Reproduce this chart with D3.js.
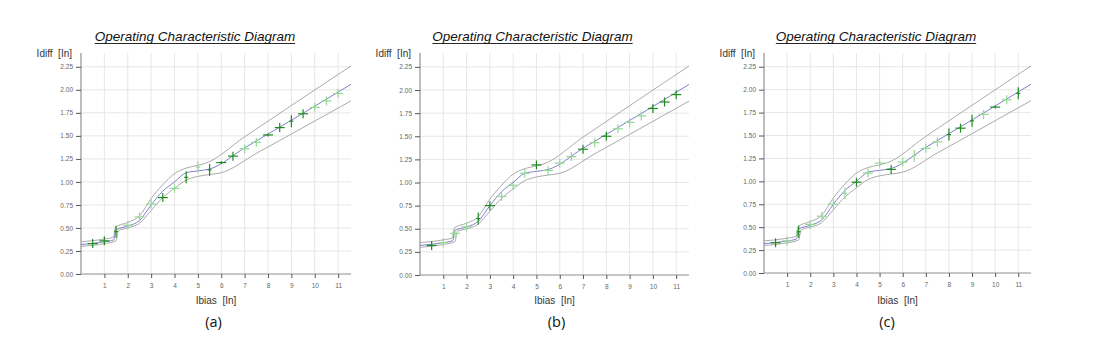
<!DOCTYPE html>
<html><head><meta charset="utf-8">
<script src="https://cdn.jsdelivr.net/npm/d3@7"></script>
<style>body{margin:0;background:#fff}svg{display:block}</style>
</head><body><svg id="c" width="1096" height="358"></svg>
<script>
// ---------- data ----------
const chartTitle = "Operating Characteristic Diagram";
const yAxisLabel = "Idiff  [In]";
const xAxisLabel = "Ibias  [In]";
const panelLabels = ["(a)", "(b)", "(c)"];
const xTicks = [1,2,3,4,5,6,7,8,9,10,11];
const yTicks = [0,0.25,0.5,0.75,1,1.25,1.5,1.75,2,2.25];
const xGrid = [0,1,2,3,4,5,6,7,8,9,10,11];

const upperX = [0,1,1.38,1.48,2,2.5,3,3.5,4,4.5,5,5.3,7,9,11.55];
const upperY = [0.35,0.38,0.40,0.51,0.56,0.63,0.82,0.97,1.09,1.15,1.18,1.20,1.49,1.83,2.26];
const middleX = [0,1,1.4,1.5,2,2.5,3,3.5,4,4.5,5,5.5,7,9,11.55];
const middleY = [0.32,0.35,0.37,0.48,0.52,0.58,0.75,0.90,1.00,1.10,1.12,1.14,1.37,1.67,2.06];
const lowerX = [0,1,1.5,1.6,2,2.5,3,3.5,4,4.5,5,5.5,6,7.5,9,11.55];
const lowerY = [0.30,0.33,0.36,0.47,0.50,0.55,0.69,0.83,0.93,1.02,1.06,1.08,1.10,1.31,1.52,1.88];

const measX = [0.5,1,1.5,2,2.5,3,3.5,4,4.5,5,5.5,6,6.5,7,7.5,8,8.5,9,9.5,10,10.5,11];
const measA = [0.33,0.36,0.46,0.53,0.62,0.76,0.83,0.93,1.05,1.16,1.13,1.21,1.28,1.36,1.43,1.51,1.59,1.66,1.74,1.81,1.88,1.96];
const measB = [0.32,0.35,0.45,0.52,0.61,0.75,0.85,0.97,1.10,1.19,1.13,1.21,1.28,1.36,1.43,1.50,1.58,1.65,1.72,1.80,1.87,1.95];
const measC = [0.33,0.35,0.45,0.53,0.62,0.75,0.87,0.99,1.09,1.20,1.13,1.21,1.28,1.36,1.43,1.51,1.58,1.66,1.73,1.81,1.89,1.96];
// marker kind: D/L = dark/light trip point, + | - = shape
const kindA = ["D+","D+","D|","L+","L+","L+","D+","L+","D|","L|","D|","D-","D+","L+","L+","D-","D+","D|","D+","L+","L+","L+"];
const kindB = ["D+","L+","L+","L+","D|","D+","L+","L+","L+","D+","L+","L+","L+","D+","L+","D+","L+","L+","L+","D+","D+","D+"];
const kindC = ["D+","L+","D|","L+","L+","L+","L|","D+","L+","L+","D+","L+","L|","L+","L+","D|","D+","D|","L+","D-","L+","D|"];

// ---------- layout ----------
const panels = [
  {left:81,  bottom:274, w:270, titleX:195,   lblX:213.5, meas:measA, kind:kindA},
  {left:420, bottom:275, w:269, titleX:532.5, lblX:556.5, meas:measB, kind:kindB},
  {left:764, bottom:273, w:267, titleX:876,   lblX:887,   meas:measC, kind:kindC}
];
const TOP = 53;
const svg = d3.select("#c");
const font = "Liberation Sans, Arial, sans-serif";

panels.forEach((p, pi) => {
  const x = d3.scaleLinear().domain([0, 11.55]).range([p.left, p.left + p.w]);
  const y = d3.scaleLinear().domain([0, 2.4]).range([p.bottom, TOP]);
  const g = svg.append("g");

  // grid
  g.selectAll(".vg").data(xGrid).enter().append("line")
    .attr("x1", d => x(d)).attr("x2", d => x(d))
    .attr("y1", TOP).attr("y2", p.bottom)
    .attr("stroke", "#e6e6e6").attr("stroke-width", 1);
  g.selectAll(".hg").data(yTicks).enter().append("line")
    .attr("x1", p.left).attr("x2", p.left + p.w)
    .attr("y1", d => y(d)).attr("y2", d => y(d))
    .attr("stroke", "#e6e6e6").attr("stroke-width", 1);

  // axes
  const ya = d3.axisLeft(y).tickValues(yTicks).tickFormat(d3.format(".2f")).tickSize(5).tickPadding(3);
  const yg = g.append("g").attr("transform", `translate(${p.left},0)`).call(ya);
  yg.select(".domain").attr("stroke", "#888").attr("d", `M0,${TOP}V${p.bottom}`);
  yg.selectAll(".tick line").attr("stroke", "#555");
  yg.selectAll("text").attr("font-size", "6.5px").attr("fill", "#666").attr("font-family", font);

  const xa = d3.axisBottom(x).tickValues(xTicks).tickFormat(d3.format("d")).tickSize(4).tickPadding(5);
  const xg = g.append("g").attr("transform", `translate(0,${p.bottom})`).call(xa);
  xg.select(".domain").attr("stroke", "#999").attr("d", `M${p.left},0H${p.left + p.w}`);
  xg.selectAll(".tick line").attr("stroke", "#555");
  xg.selectAll("text").attr("font-size", "6.5px").attr("fill", "#666").attr("font-family", font);

  // characteristic curves
  const line = d3.line().x(d => x(d[0])).y(d => y(d[1])).curve(d3.curveMonotoneX);
  const curves = [
    {xs: upperX, ys: upperY, c: "#a0a0a0"},
    {xs: lowerX, ys: lowerY, c: "#a0a0a0"},
    {xs: middleX, ys: middleY, c: "#7272c8"}
  ];
  curves.forEach(cv => {
    g.append("path").datum(d3.zip(cv.xs, cv.ys)).attr("d", line)
      .attr("fill", "none").attr("stroke", cv.c).attr("stroke-width", 0.9);
  });

  // measurement markers
  const pts = measX.map((v, i) => ({x: v, y: p.meas[i], k: p.kind[i]}));
  const mg = g.selectAll(".m").data(pts).enter().append("g")
    .attr("transform", d => `translate(${x(d.x)},${y(d.y)})`);
  const hw = k => k[1] === "|" ? 2 : 5;
  const hh = k => k[1] === "|" ? 6 : (k[1] === "-" ? 1.5 : 4.5);
  const col = k => k[0] === "D" ? "#1e8c1e" : "#96d896";
  mg.append("line").attr("x1", d => -hw(d.k)).attr("x2", d => hw(d.k)).attr("y1", 0).attr("y2", 0)
    .attr("stroke", d => col(d.k)).attr("stroke-width", 1.2);
  mg.append("line").attr("y1", d => -hh(d.k)).attr("y2", d => hh(d.k)).attr("x1", 0).attr("x2", 0)
    .attr("stroke", d => col(d.k)).attr("stroke-width", 1.2);

  // texts
  const t = g.append("text").attr("x", p.titleX).attr("y", 41).attr("text-anchor", "middle")
    .attr("font-family", font).attr("font-style", "italic").attr("font-size", "13.5px")
    .attr("fill", "#111").text(chartTitle);
  const tw = t.node().getComputedTextLength();
  g.append("line").attr("x1", p.titleX - tw / 2).attr("x2", p.titleX + tw / 2)
    .attr("y1", 43.5).attr("y2", 43.5).attr("stroke", "#111").attr("stroke-width", 0.9);

  g.append("text").attr("x", p.left - 9).attr("y", 57).attr("text-anchor", "end")
    .attr("font-family", font).attr("font-size", "10px").attr("fill", "#333")
    .style("white-space", "pre").text(yAxisLabel);
  g.append("text").attr("x", p.left + p.w / 2).attr("y", 304).attr("text-anchor", "middle")
    .attr("font-family", font).attr("font-size", "10px").attr("fill", "#333")
    .style("white-space", "pre").text(xAxisLabel);
  g.append("text").attr("x", p.lblX).attr("y", 327).attr("text-anchor", "middle")
    .attr("font-family", "Open Sans, Liberation Sans, sans-serif").attr("font-size", "14.5px").attr("fill", "#111")
    .text(panelLabels[pi]);
});
</script></body></html>
